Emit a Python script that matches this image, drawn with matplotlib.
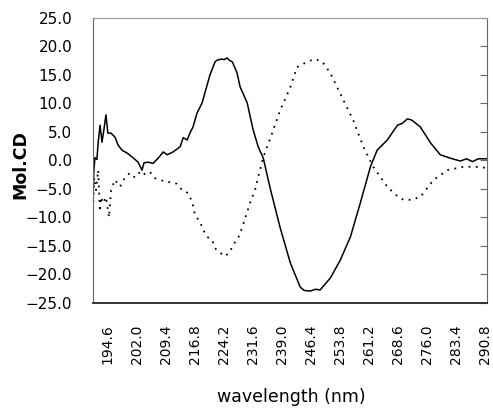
import numpy as np
from matplotlib import pyplot as plt
from matplotlib.ticker import FuncFormatter, MultipleLocator

plt.rcParams['font.family'] = ['DejaVu Sans']

# solid spectrum
wl_a = [190.8, 191.0, 191.3, 191.8, 192.1, 192.6, 193.1, 193.6, 194.1, 194.6, 195.4,
        196.4, 197.2, 198.2, 199.5, 200.8, 202.3, 203.3, 203.8, 204.8, 206.1, 207.4,
        208.7, 209.7, 211.2, 213.0, 213.8, 214.8, 215.5, 216.3, 217.3, 218.6, 220.6,
        221.9, 222.4, 223.5, 224.2, 225.0, 225.5, 226.3, 227.5, 228.3, 230.1, 231.6,
        232.9, 234.2, 236.0, 238.5, 241.1, 243.6, 244.6, 246.2, 247.5, 248.7, 251.3,
        253.8, 256.4, 258.9, 261.5, 263.2, 265.8, 268.4, 269.6, 270.9, 272.0, 274.2,
        276.8, 279.3, 281.9, 284.4, 286.0, 287.5, 289.0, 291.2]
cd_a = [-8.0, -2.0, 0.5, 0.2, 3.0, 6.2, 3.2, 5.5, 8.0, 4.8, 4.8,
        4.1, 2.7, 1.8, 1.3, 0.6, -0.3, -1.7, -0.4, -0.3, -0.5, 0.4,
        1.5, 1.0, 1.5, 2.4, 4.0, 3.6, 4.8, 5.9, 8.3, 10.1, 15.0,
        17.3, 17.6, 17.8, 17.7, 18.0, 17.6, 17.3, 15.4, 12.9, 10.1, 5.4,
        2.4, 0.4, -5.0, -11.8, -18.0, -22.2, -22.8, -22.9, -22.6, -22.7, -20.6,
        -17.5, -13.4, -7.5, -1.1, 1.8, 3.6, 6.2, 6.5, 7.3, 7.1, 5.9,
        3.1, 1.0, 0.4, -0.1, 0.3, -0.2, 0.3, 0.3]

# dotted spectrum
wl_b = [190.8, 191.1, 191.6, 192.1, 192.6, 192.8, 193.4, 194.1, 194.9, 195.4, 196.4,
        197.7, 199.0, 200.2, 201.5, 202.8, 203.6, 204.8, 205.3, 206.6, 209.7, 211.0,
        212.2, 213.5, 215.0, 216.1, 216.8, 218.1, 218.9, 219.9, 221.2, 221.9, 223.2,
        224.5, 225.7, 226.5, 227.8, 228.8, 230.1, 230.9, 232.1, 232.9, 234.2, 236.3,
        238.5, 241.1, 242.8, 243.6, 245.5, 247.5, 249.4, 251.3, 254.6, 257.1, 259.7,
        262.2, 265.8, 267.9, 269.9, 272.0, 274.2, 277.6, 281.1, 285.2, 288.0, 291.2]
cd_b = [-8.5, -3.0, -5.2, -1.7, -9.0, -6.4, -7.5, -6.4, -10.0, -5.2, -3.4,
        -4.6, -2.9, -2.2, -3.0, -2.0, -2.5, -2.0, -2.0, -3.1, -3.8, -3.8,
        -4.1, -5.2, -5.7, -7.3, -9.6, -10.8, -12.2, -13.4, -14.0, -15.4, -16.2,
        -16.8, -16.0, -14.8, -13.6, -11.8, -9.0, -7.3, -5.2, -2.9, 0.6, 4.5,
        8.8, 12.9, 16.4, 16.6, 17.4, 17.8, 17.2, 15.3, 10.6, 7.1, 2.4,
        -1.1, -4.6, -6.0, -6.9, -6.9, -6.4, -3.4, -1.7, -1.1, -1.1, -1.3]

xticks = [194.6, 202.0, 209.4, 216.8, 224.2, 231.6, 239.0, 246.4,
          253.8, 261.2, 268.6, 276.0, 283.4, 290.8]

fig = plt.figure(figsize=(4.93, 4.09), dpi=100)
ax = fig.add_axes([0.1886, 0.2592, 0.7992, 0.6968])

ax.plot(wl_a, cd_a, color='black', lw=1.1)
ax.plot(wl_b, cd_b, color='black', lw=1.3, linestyle=(0, (1, 3)))

ax.set_xlim(190.8, 291.2)
ax.set_ylim(-25, 25)
ax.yaxis.set_major_locator(MultipleLocator(5))
ax.yaxis.set_major_formatter(FuncFormatter(lambda v, p: ('%.1f' % v).replace('-', '\u2212')))
ax.set_xticks(xticks)
ax.set_xticklabels(['%.1f' % t for t in xticks], rotation=90)

ax.tick_params(axis='y', left=False, right=True, labelleft=True, labelright=False,
               direction='in', length=5, color='#666666', pad=15, labelsize=11)
ax.tick_params(axis='x', bottom=False, pad=12, labelsize=10)

for s in ['left', 'right', 'top']:
    ax.spines[s].set_color('#666666')
ax.spines['top'].set_color('#999999')
ax.spines['bottom'].set_color('#333333')
ax.spines['bottom'].set_linewidth(1.4)

fig.text(0.041, 0.597, 'Mol.CD', rotation=90, fontsize=12.5, fontweight='bold',
         ha='center', va='center')
fig.text(0.59, 0.03, 'wavelength (nm)', fontsize=12.5, ha='center', va='center')

fig.savefig('out.png', dpi=100)
